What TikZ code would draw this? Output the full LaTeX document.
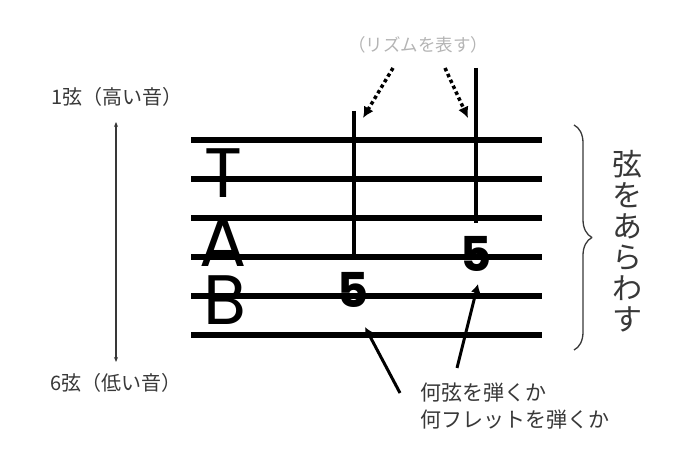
\documentclass[tikz,border=0pt]{standalone}
\usepackage{fontspec}
\setmainfont{Noto Sans CJK JP}
\newfontfamily\tabfont{Poppins}
\usepackage{tikz}
\usetikzlibrary{positioning,arrows.meta,decorations.pathreplacing}
\definecolor{labelgray}{HTML}{383838}
\definecolor{rhythmgray}{HTML}{B4B4B4}
\tikzset{
  string line/.style={line width=6bp,black},
  bar line/.style={line width=4.5bp,black},
  tab letter/.style={inner sep=0pt,anchor=base,font=\tabfont\fontsize{70bp}{70bp}\selectfont},
  fret num/.style={inner sep=0pt,anchor=base,font=\tabfont\bfseries\fontsize{48bp}{48bp}\selectfont},
  side label/.style={inner sep=0pt,text=labelgray,font=\fontsize{20bp}{24bp}\selectfont},
  dot arrow/.style={line width=3.5bp,dash pattern=on 3.5bp off 3bp,-{Latex[length=11bp,width=11bp]}},
  point arrow/.style={line width=3bp,-{Latex[length=9bp,width=10bp]}},
}
\begin{document}
\begin{tikzpicture}[>=latex,line join=bevel,]
\useasboundingbox (0bp,0bp) rectangle (700bp,466bp);
%%
\draw [string line] (191bp,326bp) -- (542bp,326bp);
\draw [string line] (191bp,287bp) -- (542bp,287bp);
\draw [string line] (191bp,248bp) -- (542bp,248bp);
\draw [string line] (191bp,209bp) -- (542bp,209bp);
\draw [string line] (191bp,170bp) -- (542bp,170bp);
\draw [string line] (191bp,131bp) -- (542bp,131bp);
%
\node (node_T) at (223bp,268bp) [tab letter] {T};
\node (node_A) at (223bp,199bp) [tab letter] {A};
\node (node_B) at (225bp,141bp) [tab letter] {B};
%
\draw [bar line] (354bp,355bp) -- (354bp,206bp);
\draw [bar line] (476bp,398bp) -- (476bp,243bp);
\node (node_fret_1) at (353bp,158bp) [fret num] {5};
\node (node_fret_2) at (476bp,194bp) [fret num] {5};
%
\node (node_rhythm) at (418bp,421bp) [inner sep=0pt,text=rhythmgray,font=\fontsize{17.5bp}{21bp}\selectfont] {（リズムを表す）};
\coordinate (rhythm_l) at (393bp,398bp);
\coordinate (rhythm_r) at (445bp,398bp);
\coordinate (bar_l) at (363bp,348bp);
\coordinate (bar_r) at (468bp,348bp);
\draw [dot arrow] (rhythm_l) -- (bar_l);
\draw [dot arrow] (rhythm_r) -- (bar_r);
%
\node (node_high) at (117bp,369bp) [side label] {1弦（高い音）};
\node (node_low) at (116bp,83bp) [side label] {6弦（低い音）};
\coordinate (high_end) at (116bp,344bp);
\coordinate (low_end) at (116bp,104bp);
\draw [labelgray,line width=1.2bp,{Stealth[length=5bp,width=4bp]}-{Stealth[length=5bp,width=4bp]}] (high_end) -- (low_end);
%
\draw [labelgray,line width=1.3bp,decorate,decoration={brace,amplitude=18bp}] (574bp,341bp) -- (574bp,116bp);
\node (node_strings) at (627bp,225bp) [inner sep=0pt,align=center,text=labelgray,font=\fontsize{30bp}{31bp}\selectfont] {弦\\を\\あ\\ら\\わ\\す};
%
\node (node_play) at (420bp,59.5bp) [anchor=west,inner sep=0pt,align=left,text=labelgray,font=\fontsize{21bp}{27bp}\selectfont] {何弦を弾くか\\何フレットを弾くか};
\coordinate (play_1) at (400bp,73bp);
\coordinate (play_2) at (457bp,98bp);
\coordinate (fret_1_tip) at (365bp,139bp);
\coordinate (fret_2_tip) at (478bp,182bp);
\draw [point arrow] (play_1) -- (fret_1_tip);
\draw [point arrow] (play_2) -- (fret_2_tip);
%
\end{tikzpicture}
\end{document}
